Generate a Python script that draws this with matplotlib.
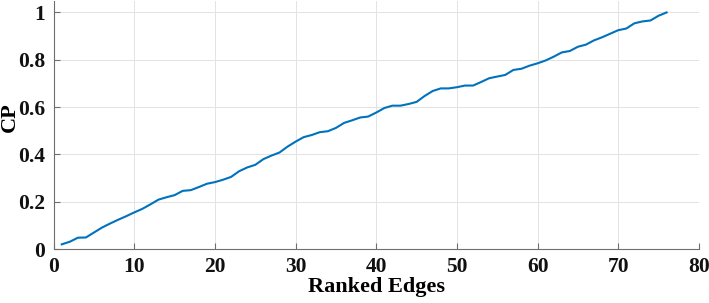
import numpy as np
from matplotlib import pyplot as plt

# ranked edges and their cumulative proportion
edges = list(range(1, 77))
cp = [0.020, 0.031, 0.048, 0.049, 0.070, 0.091, 0.108, 0.124, 0.139, 0.155,
      0.170, 0.189, 0.209, 0.219, 0.228, 0.246, 0.249, 0.262, 0.276, 0.283,
      0.293, 0.305, 0.329, 0.345, 0.356, 0.380, 0.395, 0.408, 0.433, 0.454,
      0.473, 0.482, 0.494, 0.498, 0.512, 0.533, 0.544, 0.556, 0.560, 0.577,
      0.596, 0.606, 0.606, 0.613, 0.622, 0.647, 0.668, 0.679, 0.679, 0.684,
      0.691, 0.691, 0.706, 0.722, 0.729, 0.736, 0.757, 0.762, 0.775, 0.785,
      0.797, 0.813, 0.831, 0.837, 0.855, 0.864, 0.882, 0.895, 0.910, 0.925,
      0.932, 0.954, 0.962, 0.966, 0.986, 1.000]

x_ticks = [0, 10, 20, 30, 40, 50, 60, 70, 80]
y_ticks = [0, 0.2, 0.4, 0.6, 0.8, 1]
y_labels = ["0", "0.2", "0.4", "0.6", "0.8", "1"]

plt.rcParams['font.family'] = ['Liberation Serif', 'DejaVu Serif']
plt.rcParams['font.weight'] = 'bold'

fig = plt.figure(figsize=(7.09, 3.03), dpi=100)
ax = fig.add_axes([0.0757, 0.178, 0.910, 0.82])

ax.plot(edges, cp, color='#0072BD', linewidth=1.5)

ax.set_xlim(0, 80)
ax.set_ylim(0, 1.05)
ax.set_xticks(x_ticks)
ax.set_yticks(y_ticks)
ax.set_yticklabels(y_labels)
ax.grid(True, color='#e3e3e3', linewidth=0.7)
ax.set_axisbelow(True)

for side in ['top', 'right']:
    ax.spines[side].set_visible(False)
for side in ['left', 'bottom']:
    ax.spines[side].set_color('#6e6e6e')
    ax.spines[side].set_linewidth(0.8)

ax.tick_params(direction='in', length=4, width=0.8, color='#6e6e6e',
               labelsize=15.5, labelcolor='#111111', pad=6)
for lab in ax.get_xticklabels() + ax.get_yticklabels():
    lab.set_fontweight('bold')

ax.set_xlabel('Ranked Edges', fontsize=16, fontweight='bold', labelpad=0)
ax.set_ylabel('CP', fontsize=16, fontweight='bold')
ax.yaxis.set_label_coords(-0.052, 0.53)

fig.savefig('out.png', dpi=100)
